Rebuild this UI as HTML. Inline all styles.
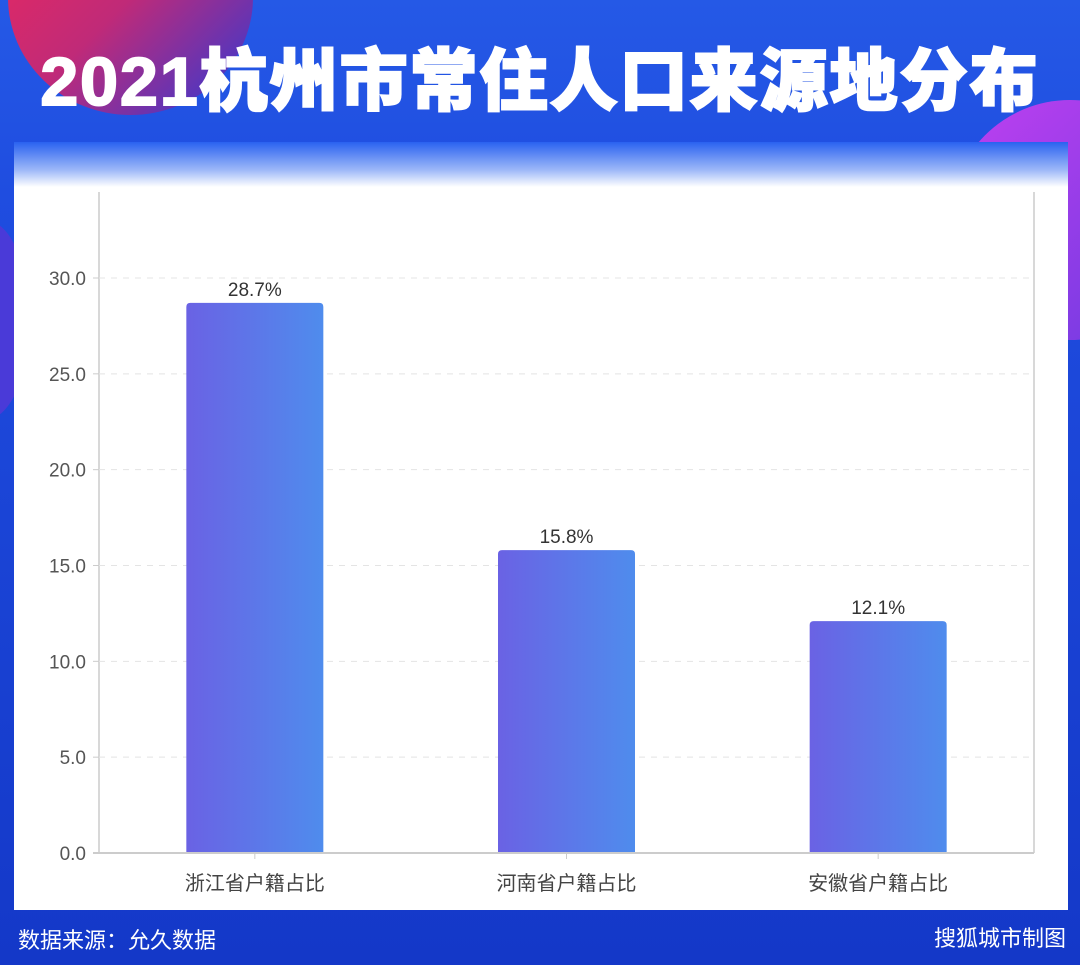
<!DOCTYPE html>
<html><head><meta charset="utf-8"><style>
body{margin:0;width:1080px;height:965px;overflow:hidden;font-family:"Liberation Sans","Noto Sans CJK SC",sans-serif;}
#bg{position:absolute;left:0;top:0;width:1080px;height:965px;background:linear-gradient(180deg,#2559e6 0%,#1f4de0 20%,#1438c8 100%);overflow:hidden}
</style></head><body>
<div id="bg">
<div style="position:absolute;left:8px;top:-120px;width:245px;height:235px;border-radius:50%;background:linear-gradient(135deg,#f2285a 0%,#c02a78 50%,#2a3ad8 100%)"></div>
<div style="position:absolute;left:950px;top:100px;width:240px;height:240px;border-radius:50%;background:linear-gradient(135deg,#c040f0,#6a3ae0)"></div>
<div style="position:absolute;left:-60px;top:220px;width:90px;height:200px;border-radius:50%;background:#4a3ad8"></div>
<div style="position:absolute;left:0;top:26px;width:1080px;text-align:center;color:#fff;font-size:68px;font-weight:900;letter-spacing:2px;white-space:nowrap;font-family:'Liberation Sans','Noto Sans CJK SC',sans-serif;-webkit-text-stroke:2px #fff">2021杭州市常住人口来源地分布</div>
<div style="position:absolute;left:14px;top:142px;width:1054px;height:768px;background:linear-gradient(180deg,#2a62f0 0px,#9db8f8 28px,#fff 45px,#fff 100%)"></div>
<svg id="chart" width="1080" height="965" style="position:absolute;left:0;top:0">
<defs><linearGradient id="bg1" x1="0" x2="1"><stop offset="0" stop-color="#6a62e4"/><stop offset="1" stop-color="#4f8ced"/></linearGradient></defs>
</svg>
<div style="position:absolute;left:18px;top:923px;color:#fff;font-size:22px">数据来源：允久数据</div>
<div style="position:absolute;right:14px;top:921px;color:#fff;font-size:22px">搜狐城市制图</div>
</div>
<script>
const categories=["浙江省户籍占比","河南省户籍占比","安徽省户籍占比"];
const values=[28.7,15.8,12.1];
const valueLabels=["28.7%","15.8%","12.1%"];
const ticks=[0,5,10,15,20,25,30];
const tickLabels=["0.0","5.0","10.0","15.0","20.0","25.0","30.0"];
const svg=document.getElementById('chart');const NS='http://www.w3.org/2000/svg';
const x0=99,x1=1034,yBase=853,yTop=192,pxPerUnit=(853-278)/30;
const y=v=>yBase-v*pxPerUnit;
const band=(x1-x0)/categories.length;
const xc=i=>x0+band*(i+0.5);
function el(t,a){const e=document.createElementNS(NS,t);for(const k in a)e.setAttribute(k,a[k]);svg.appendChild(e);return e;}
let g;
g=el('line',{x1:x0,y1:yTop,x2:x0,y2:yBase,stroke:'#ccc','stroke-width':1.5});

g=el('line',{x1:x1,y1:yTop,x2:x1,y2:yBase,stroke:'#ccc','stroke-width':1.5});

ticks.forEach((t,i)=>{
 if(t>0){const l=el('line',{x1:x0,y1:y(t),x2:x1,y2:y(t),stroke:'#e4e4e4','stroke-dasharray':'6,6','stroke-width':1});
 }
 const tk=el('line',{x1:x0-6,y1:y(t),x2:x0,y2:y(t),stroke:'#ccc'});
 
 const tx=el('text',{x:x0-13,y:y(t)+7,'text-anchor':'end','font-size':19,fill:'#555','font-family':'Liberation Sans, sans-serif'});
 tx.textContent=tickLabels[i];
 
});
const bw=137;
categories.forEach((c,i)=>{
 const r=el('path',{d:`M${xc(i)-bw/2},${yBase} V${y(values[i])+4} q0,-4 4,-4 H${xc(i)+bw/2-4} q4,0 4,4 V${yBase} Z`,fill:'url(#bg1)'});
 
 const vl=el('text',{x:xc(i),y:y(values[i])-7,'text-anchor':'middle','font-size':19,fill:'#333','font-family':'Liberation Sans, sans-serif'});
 vl.textContent=valueLabels[i];
 
 const tk=el('line',{x1:xc(i),y1:yBase,x2:xc(i),y2:yBase+6,stroke:'#ccc'});
 
 const cl=el('text',{x:xc(i),y:890,'text-anchor':'middle','font-size':20,fill:'#444','font-family':'Liberation Sans, Noto Sans CJK SC, sans-serif'});
 cl.textContent=c;
 
});
g=el('line',{x1:x0-6,y1:yBase,x2:x1,y2:yBase,stroke:'#ccc','stroke-width':2});

</script>
</body></html>
